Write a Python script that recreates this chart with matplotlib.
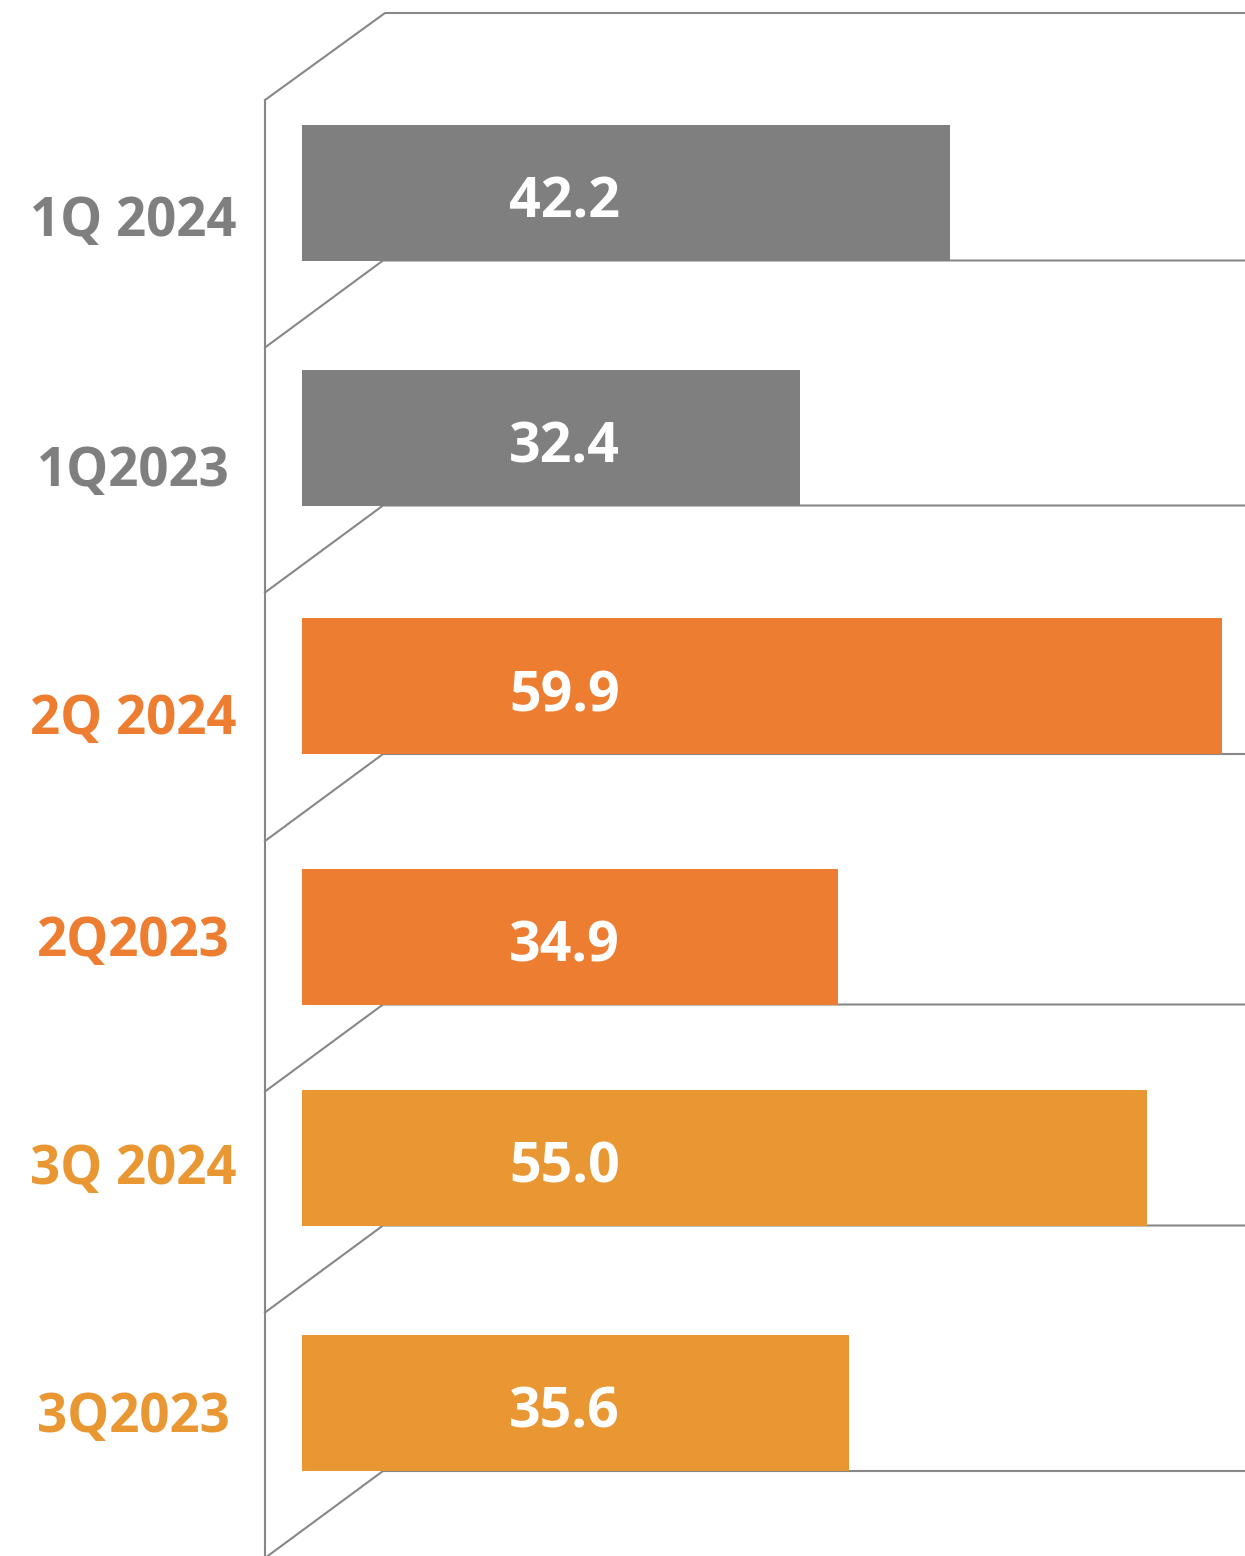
import matplotlib
matplotlib.use('Agg')
import matplotlib.pyplot as plt

# ── data ─────────────────────────────────────────────────────────────────────
categories = ["1Q 2024", "1Q2023", "2Q 2024", "2Q2023", "3Q 2024", "3Q2023"]
values = [42.2, 32.4, 59.9, 34.9, 55.0, 35.6]
bar_colors = ["#7f7f7f", "#7f7f7f", "#ed7d31", "#ed7d31", "#e99733", "#e99733"]

# ── layout (pixels of the 1245x1556 canvas) ─────────────────────────────────
W, H = 1245, 1556
row_centers = [192.5, 437.5, 686, 936.5, 1157.5, 1403]
label_baselines = [236, 486, 734, 956, 1184, 1432]
bar_h = 136
x0_px = 302            # where value 0 sits
px_per_unit = 15.36
wall_x, back_x = 265, 383
depth = 87
line_col = "#878787"
FONT = ["Open Sans", "DejaVu Sans"]

fig = plt.figure(figsize=(W / 100, H / 100), dpi=100)

# background axes in pixel coords for the perspective frame and labels
bg = fig.add_axes([0, 0, 1, 1])
bg.set_xlim(0, W)
bg.set_ylim(H, 0)
bg.axis('off')

# frame: left wall, top edge, and one floor per row
bg.plot([wall_x, wall_x], [depth + 13, H], color=line_col, lw=1.5,
        solid_capstyle='butt')
bg.plot([wall_x, back_x + 2, W], [depth + 13, 13, 13], color=line_col, lw=1.5)
for yc in row_centers:
    yf = yc + bar_h / 2
    bg.plot([wall_x, back_x, W], [yf + depth, yf, yf], color=line_col, lw=1.5)

# bars on a value axis, sharing the pixel y axis
ax = fig.add_axes([0, 0, 1, 1])
ax.patch.set_alpha(0)
ax.set_xlim(-x0_px / px_per_unit, (W - x0_px) / px_per_unit)
ax.set_ylim(H, 0)
ax.axis('off')
ax.barh(row_centers, values, height=bar_h, color=bar_colors, left=0,
        zorder=3)

for yc, v in zip(row_centers, values):
    ax.text(17.1, yc + 25, f"{v:.1f}", ha='center', va='baseline',
            color='white', fontsize=40, fontweight='bold', family=FONT,
            zorder=4)

for cat, yb, c in zip(categories, label_baselines, bar_colors):
    bg.text(133, yb, cat, ha='center', va='baseline', color=c,
            fontsize=38, fontweight='bold', family=FONT)

fig.savefig('out.png', dpi=100)
